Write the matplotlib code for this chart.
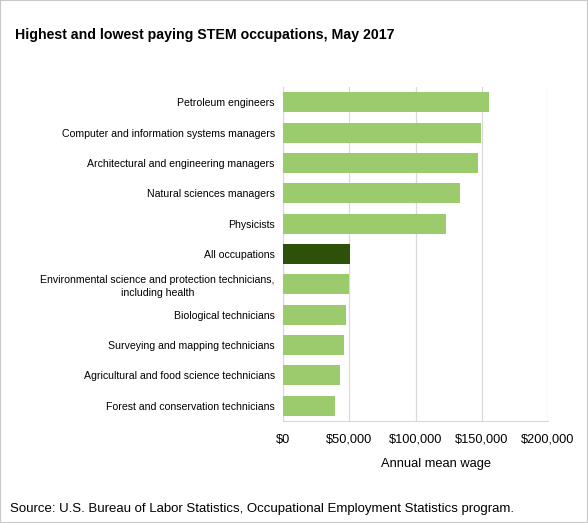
import matplotlib.pyplot as plt
from matplotlib.ticker import FuncFormatter
from matplotlib.patches import Rectangle

plt.rcParams["font.family"] = ["Liberation Sans", "DejaVu Sans"]

occupations = [
    "Petroleum engineers",
    "Computer and information systems managers",
    "Architectural and engineering managers",
    "Natural sciences managers",
    "Physicists",
    "All occupations",
    "Environmental science and protection technicians,\nincluding health",
    "Biological technicians",
    "Surveying and mapping technicians",
    "Agricultural and food science technicians",
    "Forest and conservation technicians",
]
wages = [155100, 149800, 146800, 133900, 123300, 50700, 49500, 47900, 46400, 43100, 39300]
highlight = "All occupations"
x_ticks = [0, 50000, 100000, 150000, 200000]

fig = plt.figure(figsize=(5.88, 5.23), dpi=100)
ax = fig.add_axes([0.4813, 0.195, 0.932 - 0.4813, 0.8337 - 0.195])

colors = ["#2d5108" if o == highlight else "#9bcb6d" for o in occupations]
ypos = list(range(len(occupations)))
ax.barh(ypos, wages, height=0.66, color=colors, zorder=3)
ax.set_ylim(len(occupations) - 0.5, -0.5)
ax.set_xlim(0, 200000)
ax.set_xticks(x_ticks)
ax.xaxis.set_major_formatter(FuncFormatter(lambda v, p: f"${v:,.0f}"))
ax.set_yticks(ypos)
ax.set_yticklabels(occupations, fontsize=7.6, ha="right", multialignment="center",
                   linespacing=1.35)
ax.tick_params(axis="x", labelsize=9.2, length=0, pad=9)
ax.tick_params(axis="y", length=0, pad=6)
ax.grid(axis="x", color="#d9d9d9", linewidth=0.9, zorder=0)
for s in ["top", "right"]:
    ax.spines[s].set_visible(False)
ax.spines["left"].set_color("#d9d9d9")
ax.spines["bottom"].set_color("#d9d9d9")
ax.set_xlabel("Annual mean wage", fontsize=9.3)
ax.xaxis.set_label_coords(0.577, -0.112)

fig.text(15 / 588, 1 - 35 / 523, "Highest and lowest paying STEM occupations, May 2017",
         fontsize=10.2, fontweight="bold", va="center")
fig.text(10 / 588, 1 - 509 / 523,
         "Source: U.S. Bureau of Labor Statistics, Occupational Employment Statistics program.",
         fontsize=9.5, va="center")
fig.patches.append(Rectangle((0, 0), 1, 1, transform=fig.transFigure, fill=False,
                             edgecolor="#c8c8c8", linewidth=1.5))

fig.savefig("out.png", dpi=100)
